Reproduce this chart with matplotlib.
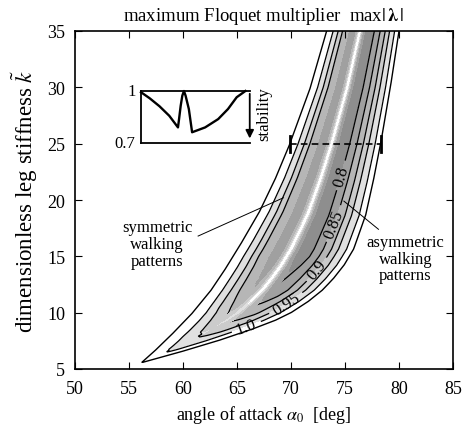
import numpy as np
import matplotlib
matplotlib.use('Agg')
import matplotlib.pyplot as plt

plt.rcParams['font.family'] = ['Liberation Serif', 'DejaVu Serif']
plt.rcParams['mathtext.fontset'] = 'stix'

# outer border of the region where walking solutions exist
k_left = [5.6, 6.8, 8.3, 10, 12, 14, 16.5, 19, 22, 25, 30, 35]
a_left = [56.2, 57.6, 59.2, 60.9, 62.6, 64.0, 65.6, 67.1, 68.6, 69.9, 71.8, 73.3]
k_right = [5.6, 6.5, 7.5, 8.5, 9.3, 10.0, 11.0, 12.0, 13.0, 14.2, 15.65, 18.6, 21.6, 25, 30, 35]
a_right = [56.3, 59.7, 63.2, 66.3, 68.5, 70.0, 71.6, 72.9, 73.9, 74.9, 75.8, 76.9, 77.6, 78.3, 79.2, 80.0]

# cross section of max|lambda| across the band (t = 0 left border, t = 1 right border)
t_cusp = 0.46
t_sym = [0, 0.09, 0.16, 0.22, 0.30, 0.38, 0.46]
mu_sym = [1.06, 1.0, 0.95, 0.9, 0.85, 0.80, 0.785]
t_asym = [0.46, 0.51, 0.58, 0.66, 0.74, 0.81, 0.87, 0.94, 1.0]
mu_asym = [0.77, 0.762, 0.775, 0.80, 0.85, 0.90, 0.95, 1.0, 1.06]
# how deep the cross section is along k (shallow near the tip)
k_depth = [5.6, 6.5, 7.85, 9.2, 10.5, 12, 15, 35]
depth = [0, 0.2, 0.37, 0.54, 0.7, 0.87, 1.0, 1.0]
# white ridge at the bifurcation (symmetric / asymmetric)
k_ridge = [5.6, 8.0, 11.5, 35]
ridge = [0, 0, 1, 1]

# inset sketch of the cross section
ins_x = [0, 0.08, 0.17, 0.26, 0.34, 0.35, 0.365, 0.38, 0.395, 0.41, 0.44, 0.47,
         0.59, 0.71, 0.80, 0.88, 0.96]
ins_y = [0.993, 0.958, 0.912, 0.857, 0.79, 0.838, 0.915, 0.973, 1.0, 0.973, 0.896, 0.762,
         0.79, 0.838, 0.896, 0.964, 1.0]

label_levels = [0.8, 0.85, 0.9, 0.95, 1.0]
label_text = ['0.8', '0.85', '0.9', '0.95', '1.0']
label_pos = [(74.3, 22.3), (73.0, 18.3), (71.6, 14.5), (69.3, 11.2), (66.0, 8.4)]

# build the field
A, K = np.meshgrid(np.linspace(50, 85, 901), np.linspace(5, 35, 801))
L = np.interp(K, k_left, a_left, left=np.nan)
R = np.interp(K, k_right, a_right, left=np.nan)
T = (A - L) / (R - L)
inside = (T >= 0) & (T <= 1)
P = np.where(T < t_cusp, np.interp(T, t_sym, mu_sym), np.interp(T, t_asym, mu_asym))
D = np.interp(K, k_depth, depth)
F = 1.06 - D * (1.06 - P)
F[~inside] = np.nan
S = np.interp(K, k_ridge, ridge)
bump = S * np.exp(-np.abs(T - t_cusp) / 0.033)
Ffill = F + (1.04 - F) * bump
# the 0.8 and 0.85 lines belong to the asymmetric side only
Fr = np.where(T < t_cusp, np.maximum(F, 0.87), F)

levels_fill = [0.5, 0.8, 0.85, 0.9, 0.95, 1.0, 1.5]
grays = ['#8e8e8e', '#a0a0a0', '#b6b6b6', '#cbcbcb', '#e0e0e0', 'white']

fig = plt.figure(figsize=(4.68, 4.31), dpi=100)
ax = fig.add_axes([75/468, 1-370/431, 378/468, 338/431])

ax.contourf(A, K, Ffill, levels=levels_fill, colors=grays, zorder=1)

for lev, txt, pos in zip(label_levels, label_text, label_pos):
    field = Fr if lev < 0.88 else F
    cs = ax.contour(A, K, field, levels=[lev], colors='k', linewidths=0.9, zorder=2)
    ax.clabel(cs, [lev], manual=[pos], inline=True, fontsize=12, fmt={lev: txt})

# white ridge laid over the lines that follow it
ax.contourf(A, K, np.where(bump > 0.04, Ffill, np.nan), levels=levels_fill, colors=grays,
            zorder=3)

# outer border
kk = np.linspace(5.6, 35, 300)
ax.plot(np.concatenate([np.interp(kk, k_left, a_left)[::-1], np.interp(kk, k_right, a_right)]),
        np.concatenate([kk[::-1], kk]), color='k', lw=1.0, zorder=4)

# dashed cross section marker
ax.plot([69.9, 78.3], [25, 25], 'k--', lw=1.2, dashes=(4, 2.5), zorder=5)
ax.plot([69.9, 69.9], [24.3, 25.7], 'k-', lw=2, zorder=5)
ax.plot([78.3, 78.3], [24.3, 25.7], 'k-', lw=2, zorder=5)

# annotations
ax.text(57.6, 16.1, 'symmetric\nwalking\npatterns', ha='center', va='center', fontsize=12,
        linespacing=1.05)
ax.plot([61.4, 69.3], [16.8, 20.2], 'k-', lw=0.7, zorder=5)
ax.text(80.6, 14.8, 'asymmetric\nwalking\npatterns', ha='center', va='center', fontsize=12,
        linespacing=1.05)
ax.plot([74.9, 78.1], [19.9, 17.4], 'k-', lw=0.7, zorder=5)

ax.set_xlim(50, 85)
ax.set_ylim(5, 35)
ax.set_xticks(range(50, 86, 5))
ax.set_yticks(range(5, 36, 5))
ax.tick_params(direction='in', top=True, right=True, labelsize=13, length=5)
ax.tick_params(axis='x', pad=8)
ax.tick_params(axis='y', pad=7)
for sp in ax.spines.values():
    sp.set_linewidth(1.2)
    sp.set_zorder(6)
ax.set_xlabel(r'angle of attack $\alpha_0$  [deg]', fontsize=13, labelpad=4)
ax.set_ylabel(r'dimensionless leg stiffness $\tilde{k}$', fontsize=16.5, labelpad=5)
ax.set_title(r'maximum Floquet multiplier  max$|\,\boldsymbol{\lambda}\,|$', fontsize=13.5, pad=8)

# inset
ai = fig.add_axes([141/468, 1-144/431, 112/468, 52/431])
ai.set_xlim(0, 1.03)
ai.set_ylim(0.7, 1.0)
ai.axis('off')
ai.plot(ins_x, ins_y, 'k-', lw=1.7, clip_on=False)
ai.plot([0, 1.0], [1, 1], 'k-', lw=1.3, clip_on=False)
ai.plot([0, 1.0], [0.7, 0.7], 'k-', lw=1.3, clip_on=False)
ai.plot([0, 0], [0.7, 1.0], 'k-', lw=1.3, clip_on=False)
ai.annotate('', xy=(1.0, 0.71), xytext=(1.0, 1.0),
            arrowprops=dict(arrowstyle='-|>', color='k', lw=1.3, mutation_scale=12))
ai.text(-0.05, 1.0, '1', ha='right', va='center', fontsize=12)
ai.text(-0.05, 0.7, '0.7', ha='right', va='center', fontsize=12)
ai.text(1.13, 0.87, 'stability', rotation=90, ha='center', va='center', fontsize=12)

fig.savefig('out.png', dpi=100)
